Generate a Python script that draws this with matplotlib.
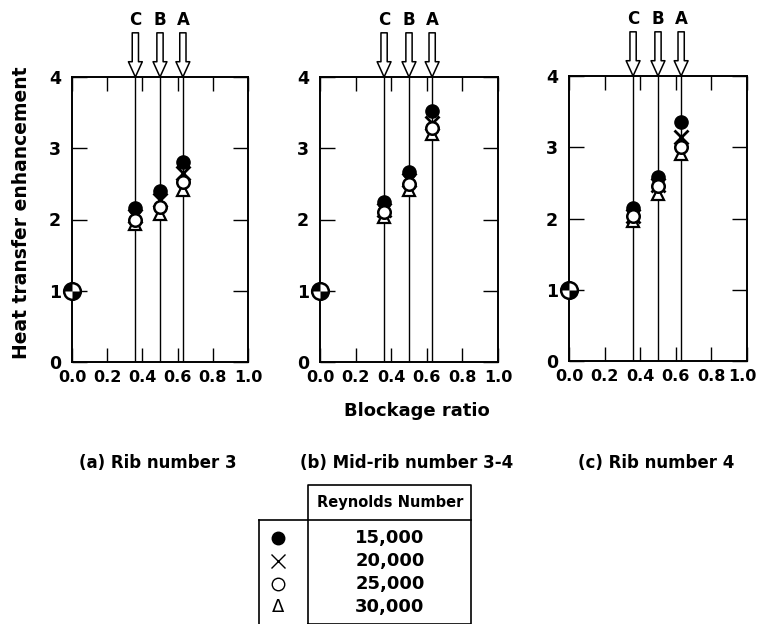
import numpy as np
import matplotlib
matplotlib.use("Agg")
import matplotlib.pyplot as plt
from matplotlib.path import Path
from matplotlib.transforms import ScaledTranslation

plt.rcParams['font.family'] = ['DejaVu Sans']
plt.rcParams['font.weight'] = 'bold'

#----------------------#
# Data                 #
#----------------------#

# blockage ratio positions of ribs C, B, A
rib_names = ['C', 'B', 'A']
blockage = [0.36, 0.50, 0.63]

# smooth channel reference point
smooth_x = 0.0
smooth_y = 1.0

reynolds = ['15,000', '20,000', '25,000', '30,000']

panel_titles = ['(a) Rib number 3', '(b) Mid-rib number 3-4', '(c) Rib number 4']

# enhancement at C, B, A for each Reynolds number
rib3_re15 = [2.16, 2.40, 2.81]
rib3_re20 = [2.05, 2.28, 2.65]
rib3_re25 = [1.99, 2.18, 2.53]
rib3_re30 = [1.93, 2.08, 2.41]

mid34_re15 = [2.25, 2.67, 3.52]
mid34_re20 = [2.13, 2.55, 3.35]
mid34_re25 = [2.10, 2.50, 3.28]
mid34_re30 = [2.03, 2.42, 3.20]

rib4_re15 = [2.15, 2.58, 3.36]
rib4_re20 = [2.03, 2.47, 3.15]
rib4_re25 = [2.03, 2.45, 3.00]
rib4_re30 = [1.97, 2.35, 2.90]

panels = [
    [rib3_re15, rib3_re20, rib3_re25, rib3_re30],
    [mid34_re15, mid34_re20, mid34_re25, mid34_re30],
    [rib4_re15, rib4_re20, rib4_re25, rib4_re30],
]

#----------------------#
# Figure               #
#----------------------#

W, H = 759, 624
fig = plt.figure(figsize=(W / 100, H / 100), dpi=100)

# axes boxes in pixels: left, top, right, bottom
boxes = [(72, 77, 248, 362), (320, 77, 498, 362), (569, 76, 747, 361)]

# quarter-filled marker shape (top-left and bottom-right quadrants)
def quadrant(a0, a1):
    ang = np.radians(np.linspace(a0, a1, 20))
    verts = [(0, 0)] + list(zip(np.cos(ang), np.sin(ang))) + [(0, 0)]
    codes = [Path.MOVETO] + [Path.LINETO] * 20 + [Path.CLOSEPOLY]
    return Path(verts, codes)

quad = Path.make_compound_path(quadrant(90, 180), quadrant(270, 360))

for i, (box, data, title) in enumerate(zip(boxes, panels, panel_titles)):
    l, t, r, b = box
    ax = fig.add_axes([l / W, 1 - b / H, (r - l) / W, (b - t) / H])
    ax.set_xlim(0, 1)
    ax.set_ylim(0, 4)
    for s in ax.spines.values():
        s.set_linewidth(1.4)

    ax.set_xticks([0.0, 0.2, 0.4, 0.6, 0.8, 1.0])
    ax.set_xticklabels(['0.0', '0.2', '0.4', '0.6', '0.8', '1.0'])
    ax.set_yticks([0, 1, 2, 3, 4])
    ax.tick_params(axis='y', direction='in', length=11, width=1.0,
                   right=True, labelsize=12.5, pad=8)
    ax.tick_params(axis='x', direction='in', length=10, width=1.0,
                   top=True, labelsize=11.5, pad=6)
    if i == 2:
        # keep the last label inside the picture
        last = ax.get_xticklabels()[-1]
        last.set_transform(last.get_transform() +
                           ScaledTranslation(-5 / 100, 0, fig.dpi_scale_trans))

    for xb, name in zip(blockage, rib_names):
        ax.axvline(xb, color='black', lw=1.0, zorder=1)
        ax.annotate('', xy=(xb, 1.0), xytext=(xb, 1.155),
                    xycoords=('data', 'axes fraction'),
                    textcoords=('data', 'axes fraction'),
                    arrowprops=dict(arrowstyle='simple,head_length=1.1,head_width=1.0,tail_width=0.45',
                                    fc='white', ec='black', lw=1.1,
                                    shrinkA=0, shrinkB=0, mutation_scale=10),
                    annotation_clip=False)
        ax.text(xb, 1.2, name, transform=ax.get_xaxis_transform(),
                ha='center', va='center', fontsize=12, fontweight='bold')

    re15, re20, re25, re30 = data
    ax.plot(blockage, re15, 'o', ms=9.5, mfc='black', mec='black', ls='none', zorder=3)
    ax.plot(blockage, re20, 'x', ms=10, mew=2.0, color='black', ls='none', zorder=4)
    ax.plot(blockage, re30, '^', ms=9, mfc='white', mec='black', mew=1.6, ls='none', zorder=5)
    ax.plot(blockage, re25, 'o', ms=9, mfc='white', mec='black', mew=1.8, ls='none', zorder=6)

    ax.plot([smooth_x], [smooth_y], 'o', ms=12, mfc='white', mec='black', mew=1.8,
            clip_on=False, zorder=6)
    ax.plot([smooth_x], [smooth_y], marker=quad, ms=12, mfc='black', mec='none',
            ls='none', clip_on=False, zorder=7)

    fig.text(((l + r) / 2 - 2) / W, 1 - 463 / H, title, ha='center', va='center',
             fontsize=12, fontweight='bold')

fig.text(22 / W, 1 - 213 / H, 'Heat transfer enhancement', rotation=90,
         ha='center', va='center', fontsize=13.5, fontweight='bold')
fig.text(417 / W, 1 - 411 / H, 'Blockage ratio', ha='center', va='center',
         fontsize=13, fontweight='bold')

#----------------------#
# Legend table         #
#----------------------#

lg = fig.add_axes([0, 0, 1, 1])
lg.set_xlim(0, W)
lg.set_ylim(H, 0)
lg.axis('off')

lw = 1.2
lg.plot([308, 471, 471, 308, 308], [624, 624, 485, 485, 624], color='black', lw=lw)
lg.plot([259, 471], [520, 520], color='black', lw=lw)
lg.plot([259, 259], [520, 624], color='black', lw=lw)
lg.text(390, 503, 'Reynolds Number', ha='center', va='center', fontsize=10.5,
        fontweight='bold')

row_y = [538, 561, 584, 607]
for yy, re in zip(row_y, reynolds):
    lg.text(390, yy, re, ha='center', va='center', fontsize=13, fontweight='bold')

lg.plot([278], [row_y[0]], 'o', ms=9, color='black')
lg.plot([278], [row_y[1]], 'x', ms=10, mew=1.0, color='black')
lg.plot([278], [row_y[2]], 'o', ms=9, mfc='white', mec='black', mew=1.0)
lg.text(278, row_y[3], '\u0394', ha='center', va='center', fontsize=13,
        fontweight='normal')

fig.savefig('out.png', dpi=100)
